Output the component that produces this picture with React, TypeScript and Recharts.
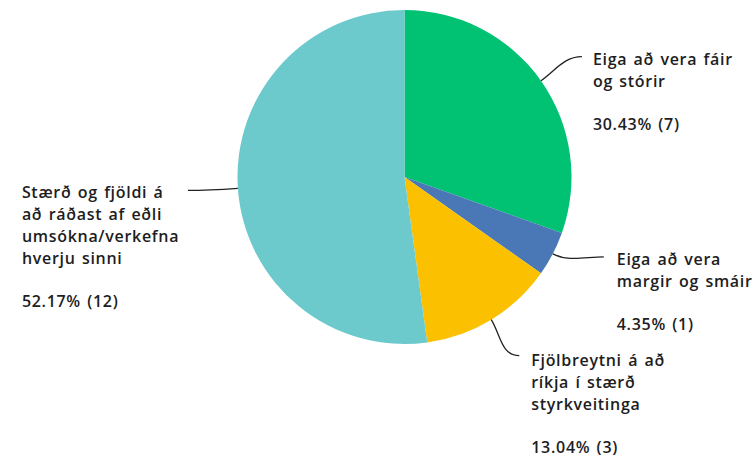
import React from "react";
import { PieChart, Pie, Cell } from "recharts";

const categoryLines: string[][] = [
  ["Eiga að vera fáir", "og stórir"],
  ["Eiga að vera", "margir og smáir"],
  ["Fjölbreytni á að", "ríkja í stærð", "styrkveitinga"],
  ["Stærð og fjöldi á", "að ráðast af eðli", "umsókna/verkefna", "hverju sinni"],
];
const counts: number[] = [7, 1, 3, 12];
const colors: string[] = ["#00C272", "#4A78B6", "#FBC100", "#6CC9CC"];

const total = counts.reduce((a, b) => a + b, 0);
const data = counts.map((v, i) => ({ name: categoryLines[i].join(" "), value: v }));

// leader-line end offsets (from slice edge) and text offsets (from leader end)
const leaderEnd = [
  { dx: 41, dy: -24, tx: 11, ty: 8 },
  { dx: 51, dy: 3, tx: 13, ty: 8 },
  { dx: 28, dy: 36, tx: 12, ty: 10 },
  { dx: -50, dy: 2, tx: -166, ty: 8 },
];

const LINE_H = 22;
const GAP = 43;
const RAD = Math.PI / 180;

const renderLabel = (props: any) => {
  const { cx, cy, midAngle, outerRadius, index, value } = props;
  const cos = Math.cos(-midAngle * RAD);
  const sin = Math.sin(-midAngle * RAD);
  const sx = cx + outerRadius * cos;
  const sy = cy + outerRadius * sin;
  const o = leaderEnd[index];
  const ex = sx + o.dx;
  const ey = sy + o.dy;
  const c1x = sx + cos * 18;
  const c1y = sy + sin * 18;
  const dir = o.dx >= 0 ? 1 : -1;
  const c2x = ex - dir * 18;
  const c2y = ey;
  const lines = categoryLines[index];
  const tx = ex + o.tx;
  const ty0 = ey + o.ty;
  const pct = ((value / total) * 100).toFixed(2) + "% (" + value + ")";
  return (
    <g key={"lbl" + index}>
      <path
        d={`M${sx},${sy} C${c1x},${c1y} ${c2x},${c2y} ${ex},${ey}`}
        stroke="#222"
        strokeWidth={1.3}
        fill="none"
      />
      <text
        x={tx}
        y={ty0}
        fill="#1d1d22"
        fontSize={16}
        fontWeight={600}
        fontFamily="'Open Sans', sans-serif"
        letterSpacing={0.7}
        wordSpacing={1.5}
        textAnchor="start"
      >
        {lines.map((l, i) => (
          <tspan key={i} x={tx} y={ty0 + i * LINE_H}>
            {l}
          </tspan>
        ))}
        <tspan x={tx} y={ty0 + (lines.length - 1) * LINE_H + GAP}>
          {pct}
        </tspan>
      </text>
    </g>
  );
};

export default function App() {
  return (
    <div style={{ position: "fixed", left: 0, top: 0, width: 753, height: 455, background: "#fff" }}>
      <PieChart width={753} height={455} margin={{ top: 0, right: 0, bottom: 0, left: 0 }}>
        <Pie
          data={data}
          dataKey="value"
          nameKey="name"
          cx={404.5}
          cy={177}
          outerRadius={167}
          startAngle={90}
          endAngle={-270}
          stroke="none"
          isAnimationActive={false}
          label={renderLabel}
          labelLine={false}
        >
          {data.map((_, i) => (
            <Cell key={i} fill={colors[i]} />
          ))}
        </Pie>
      </PieChart>
    </div>
  );
}
